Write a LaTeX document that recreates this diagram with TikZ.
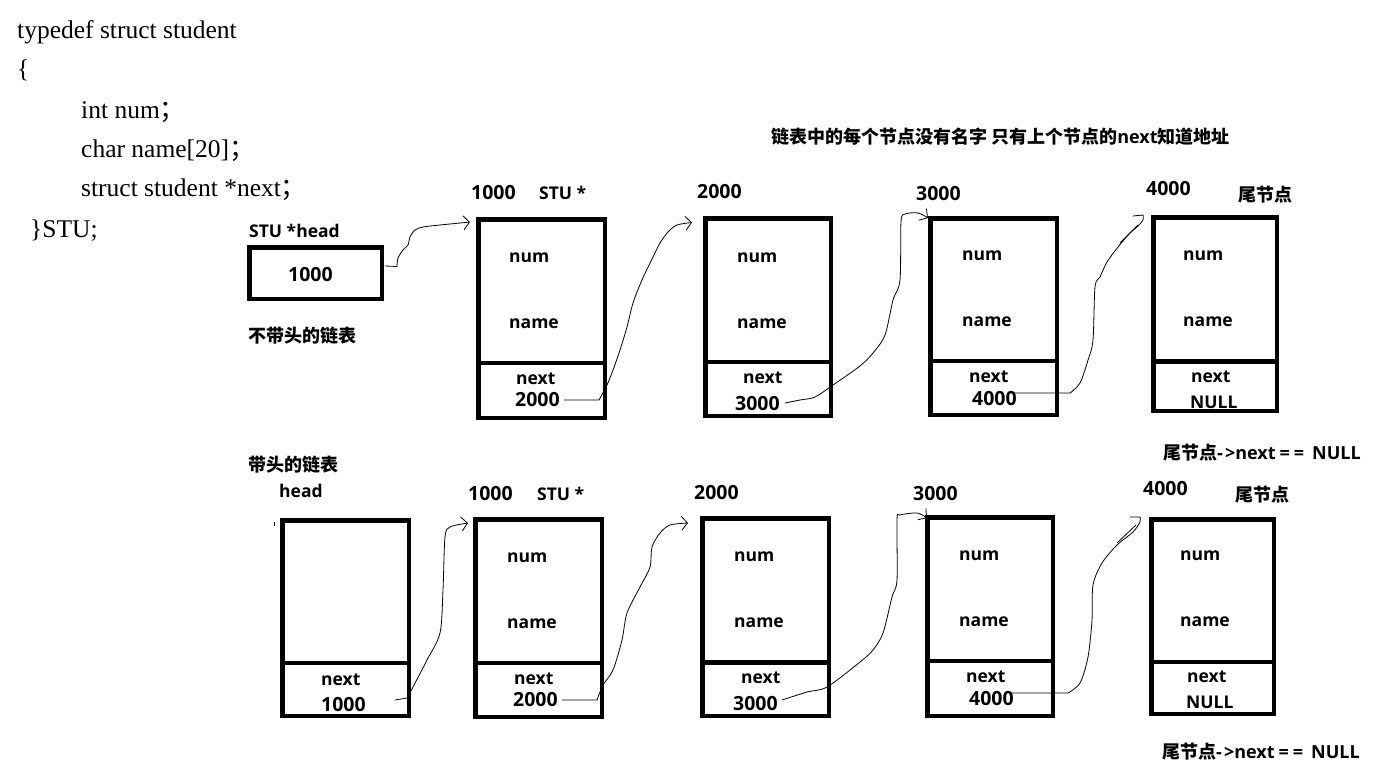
\documentclass[tikz,border=0pt]{standalone}
\usepackage{fontspec}
\setmainfont{Liberation Serif}
\newfontfamily\lat{Open Sans}
\newfontfamily\cj{Noto Sans CJK SC}
\usetikzlibrary{arrows.meta}
\tikzset{
  cellbox/.style={draw, line width=4.5pt, inner sep=0pt, outer sep=0pt},
  cellline/.style={line width=4.5pt},
  lab/.style={font=\lat\bfseries\fontsize{17.5}{20}\selectfont, inner sep=0pt, anchor=base west},
  numlab/.style={font=\lat\bfseries\fontsize{19.5}{22}\selectfont, inner sep=0pt, anchor=base west},
  cjlab/.style={font=\cj\bfseries\fontsize{18}{20}\selectfont, inner sep=0pt, anchor=base west},
  taillab/.style={font=\lat\bfseries\fontsize{18}{20}\selectfont, inner sep=0pt, anchor=base west},
  titletxt/.style={font=\cj\bfseries\fontsize{18}{20}\selectfont, inner sep=0pt, anchor=base west},
  codetxt/.style={font=\fontsize{25.5}{30}\selectfont, inner sep=0pt, anchor=base west},
  handline/.style={line width=0.8pt},
  handarrow/.style={handline, -{Straight Barb[length=6pt,width=14pt]}},
}
\newcommand{\cellnode}[5]{%
  \node[cellbox, minimum width={(#4-#2)*1pt}, minimum height={(#5-#3)*1pt}] (#1) at ({(#2+#4)/2},{(#3+#5)/2}) {};}
\newcommand{\tailtext}{{\cj\fontsize{18}{20}\selectfont 尾节点}-\hspace{2pt}>next\hspace{4pt}=\hspace{4pt}=\hspace{8pt}NULL}
\begin{document}
\begin{tikzpicture}[x=1pt, y=-1pt]
\useasboundingbox (0,0) rectangle (1390,779);
\fill[white] (0,0) rectangle (1390,779);

% code
\node[codetxt] (c1) at (17,38) {typedef struct student};
\node[codetxt] (c2) at (17,77) {\{};
\node[codetxt] (c3) at (81,118) {int num{\cj ；}};
\node[codetxt] (c4) at (81,157) {char name[20]{\cj ；}};
\node[codetxt] (c5) at (81,196) {struct student *next{\cj ；}};
\node[codetxt] (c6) at (30,237) {\}STU;};

% title
\node[titletxt] (title) at (771,143.5) {链表中的每个节点没有名字 只有上个节点的{\lat next}知道地址};

% ---------- top row ----------
\node[lab] (hdl) at (249,237.5) {STU *head};
\cellnode{hb}{249.25}{247.25}{381.75}{298.75}
\node[numlab] (hv) at (288,281.5) {1000};
\node[cjlab] (l1) at (248,342.5) {不带头的链表};

\node[numlab] (a1) at (471,199.5) {1000};
\node[lab] (s1) at (539,199.5) {STU *};
\cellnode{n1}{478.25}{219.25}{604.75}{417.75}
\draw[cellline] (n1.west |- 0,363) -- (n1.east |- 0,363);
\node[lab] (n1a) at (509,262) {num};
\node[lab] (n1b) at (509,328) {name};
\node[lab] (n1c) at (516,384) {next};
\node[numlab] (n1d) at (515,406) {2000};

\node[numlab] (a2) at (697,198.5) {2000};
\cellnode{n2}{705.25}{218.25}{830.75}{415.75}
\draw[cellline] (n2.west |- 0,362) -- (n2.east |- 0,362);
\node[lab] (n2a) at (737,262) {num};
\node[lab] (n2b) at (737,328) {name};
\node[lab] (n2c) at (743,383) {next};
\node[numlab] (n2d) at (735,410) {3000};

\node[numlab] (a3) at (916,200) {3000};
\cellnode{n3}{930.25}{218.25}{1056.75}{414.75}
\draw[cellline] (n3.west |- 0,361) -- (n3.east |- 0,361);
\node[lab] (n3a) at (962,260) {num};
\node[lab] (n3b) at (962,326) {name};
\node[lab] (n3c) at (969,382) {next};
\node[numlab] (n3d) at (972,405) {4000};

\node[numlab] (a4) at (1146,195.5) {4000};
\node[cjlab] (tl1) at (1238,201.5) {尾节点};
\cellnode{n4}{1153.25}{217.25}{1276.75}{411}
\draw[cellline] (n4.west |- 0,361.7) -- (n4.east |- 0,361.7);
\node[lab] (n4a) at (1183,260) {num};
\node[lab] (n4b) at (1183,326) {name};
\node[lab] (n4c) at (1191,382) {next};
\node[lab] (n4d) at (1190,408) {NULL};

\node[taillab] (e1) at (1163,459.5) {\tailtext};

% top connectors
\coordinate (k1s) at (385,266);
\coordinate (k1e) at (470,222);
\draw[handarrow] (k1s) -- (397,266.5) -- plot[smooth, tension=0.5] coordinates {(397,266.5) (398,258) (403,250) (408,245) (410,237) (415,230) (423,227) (440,225) (460,223) (k1e)};

\coordinate (k2s) at (564,400);
\coordinate (k2e) at (692,222.5);
\draw[handarrow] (k2s) -- (599,400) -- plot[smooth, tension=0.5] coordinates {(599,400) (607,385) (613,370) (620,350) (627,327) (633,303) (642,280) (653,257) (660,243) (668,232) (677,225) (k2e)};

\coordinate (k3s) at (785,403);
\coordinate (k3e) at (928,218);
\draw[handarrow] plot[smooth, tension=0.5] coordinates {(k3s) (800,400) (815,397) (833,385) (860,366) (873,353) (885,335) (893,300) (900,280) (901,222) (905,214) (918,213) (k3e)};

\coordinate (k4s) at (1012,393);
\coordinate (k4e) at (1133,216);
\draw[handline] (k4s) -- (1070,393) -- plot[smooth, tension=0.5] coordinates {(1070,393) (1080,383) (1088,360) (1093,340) (1095,287) (1100,277) (1107,262) (1118,247) (1130,233) (1137,227) (1143,220) (1143,215)} -- (k4e);
\draw[handline] (1120,243) -- (1138,225);

% ---------- bottom row ----------
\node[cjlab] (l2) at (248,471) {带头的链表};
\node[lab] (hd2) at (279,497) {head};
\draw[handline] (274,522) -- (274,525.5);
\cellnode{hb2}{282.25}{520.25}{408.75}{715.75}
\draw[cellline] (hb2.west |- 0,663) -- (hb2.east |- 0,663);
\node[lab] (hb2c) at (321,685) {next};
\node[numlab] (hb2d) at (321,711.5) {1000};

\node[numlab] (b1) at (468,500) {1000};
\node[lab] (sb1) at (537,500) {STU *};
\cellnode{m1}{475.25}{519.25}{601.75}{716.75}
\draw[cellline] (m1.west |- 0,663) -- (m1.east |- 0,663);
\node[lab] (m1a) at (507,562) {num};
\node[lab] (m1b) at (507,628) {name};
\node[lab] (m1c) at (514,684) {next};
\node[numlab] (m1d) at (513,706.5) {2000};

\node[numlab] (b2) at (694,499) {2000};
\cellnode{m2}{702.25}{518.25}{828.75}{715.75}
\draw[cellline] (m2.west |- 0,662.7) -- (m2.east |- 0,662.7);
\node[lab] (m2a) at (734,561) {num};
\node[lab] (m2b) at (734,627) {name};
\node[lab] (m2c) at (741,683) {next};
\node[numlab] (m2d) at (733,710.5) {3000};

\node[numlab] (b3) at (913,500) {3000};
\cellnode{m3}{927.25}{517.25}{1052.75}{715.75}
\draw[cellline] (m3.west |- 0,661) -- (m3.east |- 0,661);
\node[lab] (m3a) at (959,560) {num};
\node[lab] (m3b) at (959,626) {name};
\node[lab] (m3c) at (966,682) {next};
\node[numlab] (m3d) at (969,705) {4000};

\node[numlab] (b4) at (1143,495.5) {4000};
\node[cjlab] (tl2) at (1235,501.5) {尾节点};
\cellnode{m4}{1151.25}{519.25}{1273.75}{713.75}
\draw[cellline] (m4.west |- 0,662) -- (m4.east |- 0,662);
\node[lab] (m4a) at (1180,560) {num};
\node[lab] (m4b) at (1180,626) {name};
\node[lab] (m4c) at (1187,682) {next};
\node[lab] (m4d) at (1186,708.5) {NULL};

\node[taillab] (e2) at (1162,758.5) {\tailtext};

% bottom connectors
\coordinate (j1s) at (395,700);
\coordinate (j1e) at (468,523);
\draw[handarrow] (j1s) -- (407,698) -- plot[smooth, tension=0.5] coordinates {(407,698) (413,687) (427,660) (440,633) (443,590) (445,537) (450,527) (j1e)};

\coordinate (j2s) at (562,700);
\coordinate (j2e) at (688,523);
\draw[handarrow] (j2s) -- (597,700) -- plot[smooth, tension=0.5] coordinates {(597,700) (603,685) (613,670) (622,640) (627,613) (640,587) (650,567) (652,547) (660,533) (670,525) (j2e)};

\coordinate (j3s) at (782,700);
\coordinate (j3e) at (927,518);
\draw[handarrow] plot[smooth, tension=0.5] coordinates {(j3s) (807,692) (827,687) (860,662) (873,650) (883,633) (892,597) (897,580) (897,520) (900,515) (917,513) (j3e)};

\coordinate (j4s) at (1010,693);
\coordinate (j4e) at (1130,517);
\draw[handline] (j4s) -- (1068,693) -- plot[smooth, tension=0.5] coordinates {(1068,693) (1080,683) (1088,657) (1092,620) (1093,585) (1102,563) (1117,545) (1133,532) (1140,522) (1140,517)} -- (j4e);
\draw[handline] (1117,543) -- (1136,525);
\end{tikzpicture}
\end{document}
